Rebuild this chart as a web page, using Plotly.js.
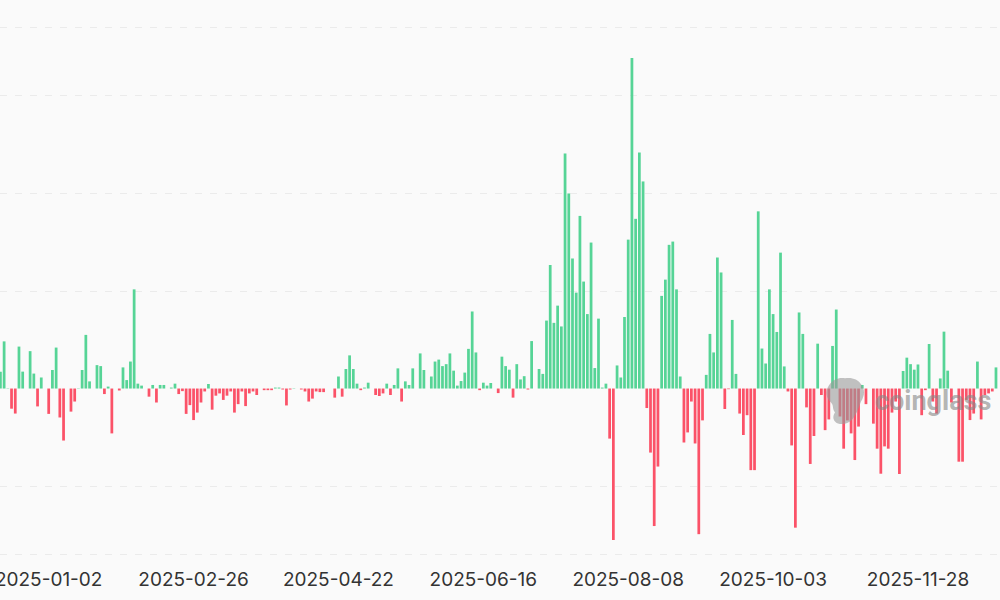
<!DOCTYPE html>
<html>
<head>
<meta charset="utf-8">
<script src="https://cdn.plot.ly/plotly-3.0.1.min.js"></script>
<style>html,body{margin:0;padding:0;background:#fafafa;overflow:hidden}#chart{width:1000px;height:600px}</style>
</head>
<body>
<div id="chart"></div>
<script>
// Daily net flow, USD millions
const flows = [52,145,1,-62,-77,129,52,0,115,46,-55,34,0,-78,57,126,-89,-160,0,-71,
-40,1,57,165,22,0,72,69,-17,6,-138,0,-6,65,26,83,305,15,9,0,
-25,11,-43,11,11,0,3,15,-17,-8,-78,-51,-97,-74,-43,-9,14,-65,-22,-15,
-35,-22,-9,-74,-48,-9,-54,-15,-9,-20,0,-5,-5,-5,3,3,-3,-52,-3,1,
0,-3,-9,-40,-31,-9,-11,-11,0,0,-28,37,-25,60,102,60,15,-5,3,18,
0,-20,-23,-15,15,-20,11,62,-40,22,11,62,0,108,57,0,37,83,89,69,
75,108,55,9,23,49,122,237,111,-5,18,9,17,0,-14,98,69,58,-28,75,
28,38,-3,146,0,60,45,209,380,202,255,191,723,600,400,295,531,329,229,449,
63,215,3,15,-154,-466,71,34,220,458,1017,522,726,637,-60,-197,-423,-240,285,335,
442,452,305,37,-166,-135,-40,-169,-448,-98,42,168,111,403,357,-63,-2,211,45,-77,
-143,-82,-251,-251,545,123,77,305,229,174,418,68,-9,-175,-428,234,168,-58,-232,-146,
138,-20,-128,-95,131,243,-86,-185,-98,-138,-220,-117,11,-48,0,-108,-185,-262,-178,-185,
-74,-40,-263,54,95,75,58,74,-82,-5,137,-40,-77,31,175,55,-43,0,-225,-225,
-35,-97,-77,83,-95,-20,-15,-9,65];

const tickLabels = ['2025-01-02','2025-02-26','2025-04-22','2025-06-16','2025-08-08','2025-10-03','2025-11-28'];
const gridValues = [-512,-300,300,600,900,1112];
const firstDay = '2024-12-16';
const closedDays = ['2025-09-01','2025-11-27'];
const upColor = '#56d496';
const downColor = '#fb5268';

// Trading-day categories
const days = [];
for (let t = Date.parse(firstDay + 'T00:00:00Z'); days.length < flows.length; t += 86400000) {
  const d = new Date(t), s = d.toISOString().slice(0, 10);
  if (d.getUTCDay() % 6 !== 0 && !closedDays.includes(s)) days.push(s);
}

const logo = 'data:image/svg+xml;utf8,' + encodeURIComponent(
  '<svg xmlns="http://www.w3.org/2000/svg" viewBox="0 0 40 48">' +
  '<path fill="#999" fill-opacity="0.6" d="M4 8 C8 2 14 0 20 1 C27 0 33 2 36 7 C40 12 40 18 36 24 C34 29 33 33 30 38 C27 44 20 48 13 46 C8 44 7 39 10 35 C7 31 9 28 6 25 C1 21 0 14 4 8 Z"/></svg>');

const trace = {
  type: 'bar', x: days, y: flows,
  marker: {color: flows.map(v => v >= 0 ? upColor : downColor), line: {width: 0}},
  hoverinfo: 'x+y'
};
const layout = {
  width: 1000, height: 600,
  margin: {l: 0, r: 0, t: 25, b: 43, pad: 0},
  paper_bgcolor: '#fafafa', plot_bgcolor: '#fafafa',
  showlegend: false, bargap: 0.26,
  xaxis: {
    type: 'category', categoryorder: 'trace',
    range: [-0.108, 269.08],
    tickmode: 'array', tickvals: tickLabels, ticktext: tickLabels,
    tickangle: 0, ticks: '', showgrid: false, zeroline: false, showline: false,
    ticklabelstandoff: 9,
    tickfont: {family: 'Inter, sans-serif', size: 19, color: '#333333'}
  },
  yaxis: {
    range: [-518.2, 1118.2],
    tickmode: 'array', tickvals: gridValues,
    showticklabels: false, ticks: '', zeroline: false, showline: false,
    showgrid: true, gridcolor: '#ebebeb', griddash: '7px,8px', gridwidth: 1
  },
  images: [{
    source: logo, xref: 'paper', yref: 'paper', x: 0.825, y: 0.338,
    sizex: 0.04, sizey: 0.091, xanchor: 'left', yanchor: 'top',
    sizing: 'stretch', layer: 'above'
  }],
  annotations: [{
    text: '<b>coinglass</b>', xref: 'paper', yref: 'paper', x: 0.873, y: 0.293,
    xanchor: 'left', yanchor: 'middle', showarrow: false,
    font: {family: 'Roboto, sans-serif', size: 27, color: 'rgba(135,135,135,0.62)'}
  }]
};
Plotly.newPlot('chart', [trace], layout, {displayModeBar: false, staticPlot: true});
</script>
</body>
</html>
